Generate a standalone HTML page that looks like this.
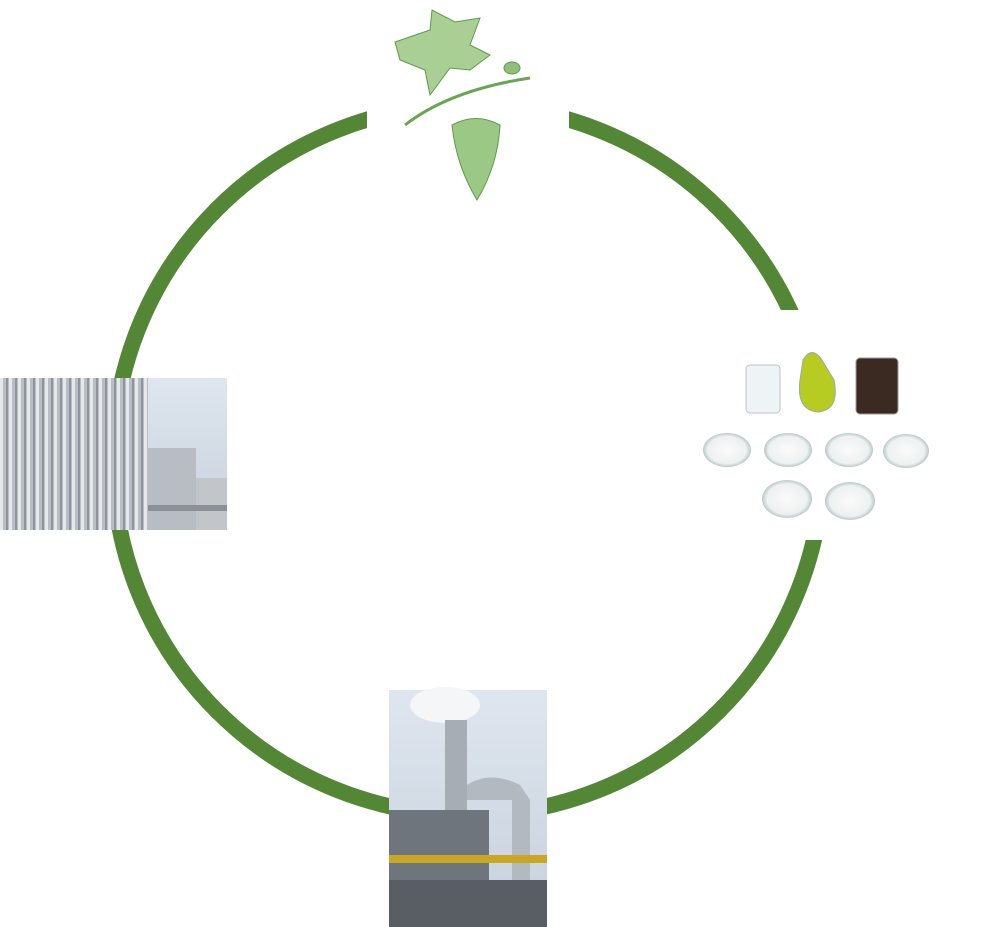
<!DOCTYPE html>
<html><head><meta charset="utf-8"><style>
html,body{margin:0;padding:0;background:#fff;width:994px;height:927px;overflow:hidden}
svg{display:block}
</style></head><body>
<svg width="994" height="927" viewBox="0 0 994 927">
<defs>
<linearGradient id="sky" x1="0" y1="0" x2="0" y2="1"><stop offset="0" stop-color="#dfe6ef"/><stop offset="1" stop-color="#c6d0dc"/></linearGradient>
<pattern id="rib" width="9" height="10" patternUnits="userSpaceOnUse"><rect width="9" height="10" fill="#b9bec4"/><rect x="0" width="3" height="10" fill="#e6e9ec"/><rect x="6" width="2" height="10" fill="#8f959c"/></pattern>
<radialGradient id="dish"><stop offset="0" stop-color="#fafafa"/><stop offset="0.8" stop-color="#eef1f1"/><stop offset="1" stop-color="#b9c8c6"/></radialGradient>
</defs>
<circle cx="468" cy="460" r="355" fill="none" stroke="#538635" stroke-width="16"/>
<rect x="367" y="80" width="202" height="140" fill="#fff"/>
<rect x="690" y="310" width="250" height="230" fill="#fff"/>
<g fill="#8fbf7a" stroke="#5f9a4a" stroke-width="1">
<path d="M395 42 L430 30 L432 10 L455 22 L480 18 L470 45 L490 55 L470 70 L450 68 L430 95 L425 70 L400 60 Z" fill="#a9cf95"/>
<path d="M405 125 Q450 90 530 78" fill="none" stroke="#6aa454" stroke-width="3"/>
<ellipse cx="512" cy="68" rx="8" ry="6"/>
<path d="M452 125 Q476 112 500 125 Q498 165 477 200 Q456 165 452 125 Z" fill="#9cc886"/>
</g>
<rect x="0" y="378" width="227" height="152" fill="url(#sky)"/>
<rect x="0" y="378" width="148" height="152" fill="url(#rib)"/>
<rect x="148" y="448" width="48" height="82" fill="#b8bdc3"/>
<rect x="196" y="478" width="31" height="52" fill="#c2c6cb"/>
<rect x="148" y="505" width="79" height="6" fill="#8b9096"/>
<rect x="746" y="365" width="34" height="48" rx="4" fill="#eef3f5" stroke="#b9c6cc"/>
<path d="M803 360 Q812 345 822 360 L834 380 Q840 410 818 412 Q796 410 800 380 Z" fill="#b7cc22" stroke="#9aa"/>
<rect x="856" y="358" width="42" height="56" rx="4" fill="#3b2a22" stroke="#999"/>
<ellipse cx="727" cy="450" rx="24" ry="17" fill="url(#dish)"/>
<ellipse cx="788" cy="450" rx="24" ry="17" fill="url(#dish)"/>
<ellipse cx="849" cy="450" rx="24" ry="17" fill="url(#dish)"/>
<ellipse cx="906" cy="451" rx="23" ry="17" fill="url(#dish)"/>
<ellipse cx="787" cy="499" rx="25" ry="19" fill="url(#dish)"/>
<ellipse cx="850" cy="501" rx="25" ry="19" fill="url(#dish)"/>
<rect x="389" y="690" width="158" height="237" fill="url(#sky)"/>
<ellipse cx="445" cy="705" rx="35" ry="18" fill="#f4f6f8"/>
<rect x="445" y="720" width="22" height="207" fill="#a7adb4"/>
<path d="M467 800 L467 785 Q490 770 520 785 L530 800 L530 927 L512 927 L512 800 Z" fill="#b3b9c0"/>
<rect x="389" y="810" width="100" height="117" fill="#6e757c"/>
<rect x="389" y="855" width="158" height="8" fill="#c9a624"/>
<rect x="389" y="880" width="158" height="47" fill="#585e64"/>
</svg>
</body></html>
